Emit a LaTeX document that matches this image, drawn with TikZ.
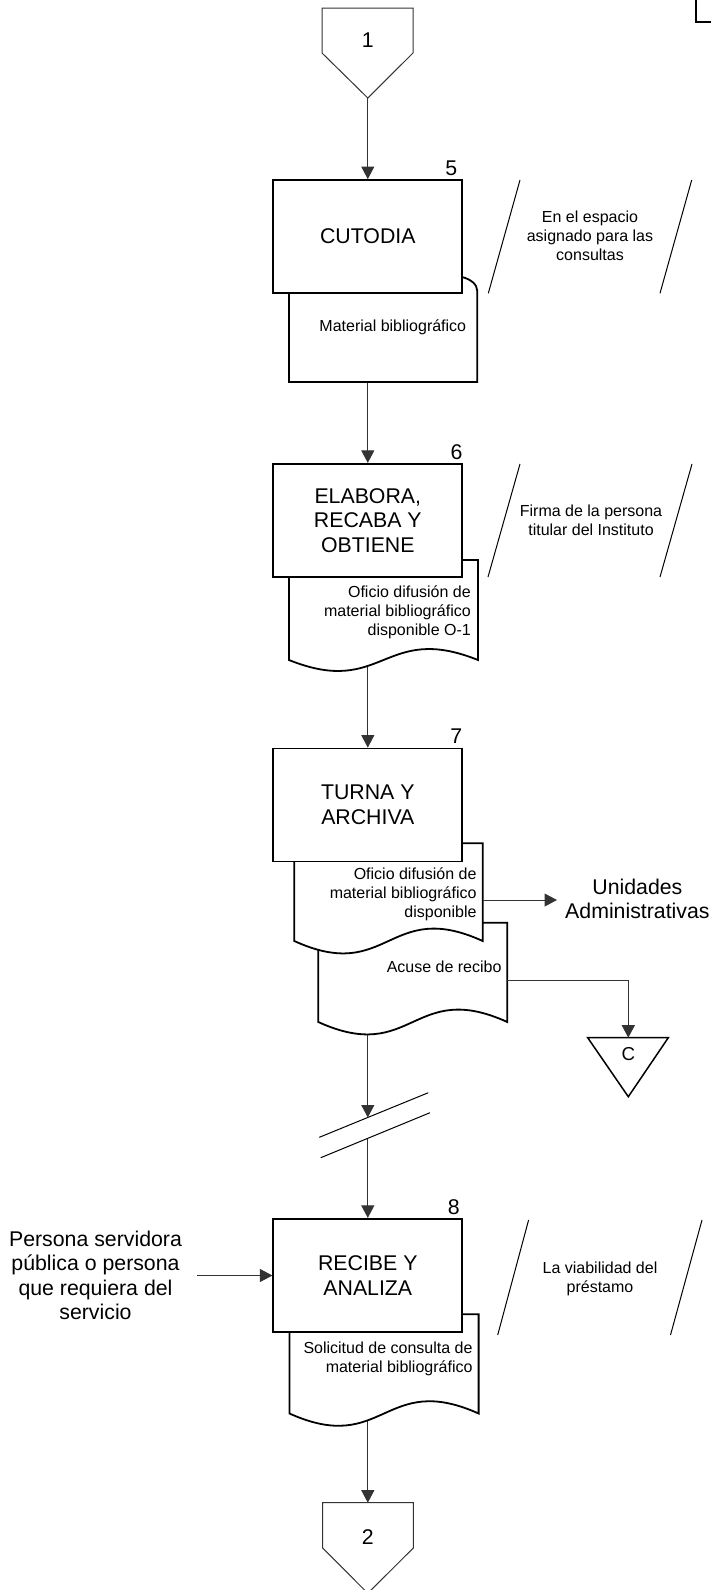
\documentclass[tikz,border=0pt]{standalone}
\usepackage{fontspec}
\setmainfont{Liberation Sans}
\usetikzlibrary{arrows.meta,backgrounds}

\begin{document}
\begin{tikzpicture}[x=1pt,y=-1pt,
    activity/.style={draw,fill=white,line width=1.8pt,minimum width=189pt,minimum height=113pt,
        align=center,font=\fontsize{21.3}{24.5}\selectfont},
    docu/.style={draw,fill=white,line width=1.8pt},
    flow/.style={draw=black!80,line width=1pt,-{Triangle[length=12.5pt,width=13pt]}},
    note/.style={align=center,inner sep=0pt,font=\fontsize{16}{19}\selectfont},
    big/.style={inner sep=0pt,font=\fontsize{21.3}{24.5}\selectfont},
    stepnum/.style={anchor=base east,inner sep=0pt,font=\fontsize{21.3}{24}\selectfont},
    slash/.style={line width=1pt}]
    \useasboundingbox (0,0) rectangle (710,1590);
    \draw[line width=1.8pt] (696,-2) -- (696,22) -- (712,22);

    \draw[line width=1pt,draw=black!80] (322,8) -- (413,8) -- (413,53) -- (367.8,98) -- (322,53) -- cycle;
    \node[big,anchor=base] (n1) at (367.8,47.7) {1};
    \coordinate (c1) at (367.8,98);

    \path[docu] (289,277) -- (462,277) .. controls (470,279) and (477.3,284) .. (477.3,291)
        -- (477.3,382) -- (289,382) -- cycle;
    \node[activity] (box5) at (367.8,236.5) {CUTODIA};
    \node[stepnum] (s5) at (457.3,175) {5};
    \node[note,anchor=base] (t5) at (392.8,331) {Material bibliográfico};
    \draw[slash] (520,180) -- (488.3,293.3);
    \draw[slash] (691.7,180) -- (660,293.3);
    \node[note] (a5) at (590,236) {En el espacio\\asignado para las\\consultas};

    \path[docu] (289,560) -- (478,560) -- (478,660)
        .. controls (383.5,622) and (383.5,698) .. (289,660) -- cycle;
    \node[activity] (box6) at (367.8,520.3) {ELABORA,\\RECABA Y\\OBTIENE};
    \node[stepnum] (s6) at (462.7,459.5) {6};
    \node[note,align=right,anchor=east] (t6) at (471,612)
        {Oficio difusión de\\material bibliográfico\\disponible O-1};
    \draw[slash] (520,464) -- (488,577);
    \draw[slash] (692,464) -- (660,577);
    \node[note] (a6) at (591,520.5) {Firma de la persona\\titular del Instituto};

    \path[docu] (318.3,922.7) -- (507.3,922.7) -- (507.3,1022)
        .. controls (412.8,979) and (412.8,1065) .. (318.3,1022) -- cycle;
    \path[docu] (294.3,843.3) -- (482.7,843.3) -- (482.7,941)
        .. controls (388.5,898) and (388.5,984) .. (294.3,941) -- cycle;
    \node[activity] (box7) at (367.8,805) {TURNA Y\\ARCHIVA};
    \node[stepnum] (s7) at (462.3,743.3) {7};
    \node[note,align=right,anchor=east] (t7a) at (476.7,894)
        {Oficio difusión de\\material bibliográfico\\disponible};
    \node[note,anchor=east] (t7b) at (501.7,966.7) {Acuse de recibo};
    \coordinate (d7a) at (482.7,900);
    \coordinate (d7b) at (507.3,980);
    \node[big,align=center,anchor=west,inner xsep=8pt] (unid) at (557,899) {Unidades\\Administrativas};
    \draw[flow] (d7a) -- (d7a -| unid.west);

    \draw[line width=1.5pt] (587.7,1037.7) -- (668.3,1037.7) -- (628.3,1096.7) -- cycle;
    \node[inner sep=0pt,anchor=base,font=\fontsize{18.7}{22}\selectfont] (cc) at (628.3,1060.5) {C};
    \coordinate (ctop) at (628.3,1037.7);
    \draw[flow] (d7b) -| (ctop);

    \draw[slash] (319.3,1137.3) -- (428.3,1092.7);
    \draw[slash] (320.7,1157.7) -- (430,1112.7);
    \coordinate (brk1) at (367.8,1117.5);
    \coordinate (brk2) at (367.8,1138.5);

    \path[docu] (289.5,1314.3) -- (478.6,1314.3) -- (478.6,1413.5)
        .. controls (384,1371) and (384,1456) .. (289.5,1413.5) -- cycle;
    \node[activity] (box8) at (367.8,1275.3) {RECIBE Y\\ANALIZA};
    \node[stepnum] (s8) at (460,1214) {8};
    \node[note,align=right,anchor=east] (t8) at (472.7,1358.5)
        {Solicitud de consulta de\\material bibliográfico};
    \draw[slash] (528.6,1220) -- (497.7,1335);
    \draw[slash] (702,1220) -- (670.5,1335);
    \node[note] (a8) at (600,1279) {La viabilidad del\\préstamo};
    \node[big,align=center,inner xsep=15pt] (pers) at (95.5,1275.5)
        {Persona servidora\\pública o persona\\que requiera del\\servicio};
    \draw[flow] (pers.east) -- (pers.east -| box8.west);

    \draw[line width=1pt,draw=black!80] (322.7,1502.7) -- (413.3,1502.7) -- (413.3,1548)
        -- (367.8,1593.3) -- (322.7,1548) -- cycle;
    \node[big,anchor=base] (n2) at (367.8,1544.5) {2};
    \coordinate (c2) at (367.8,1502.7);

    \begin{scope}[on background layer]
    \draw[flow] (c1) -- (box5);
    \draw[flow] (box5) -- (box6);
    \draw[flow] (box6) -- (box7);
    \draw[flow] (box7) -- (brk1);
    \draw[flow] (brk2) -- (box8);
    \draw[flow] (box8) -- (c2);
    \end{scope}
\end{tikzpicture}
\end{document}
